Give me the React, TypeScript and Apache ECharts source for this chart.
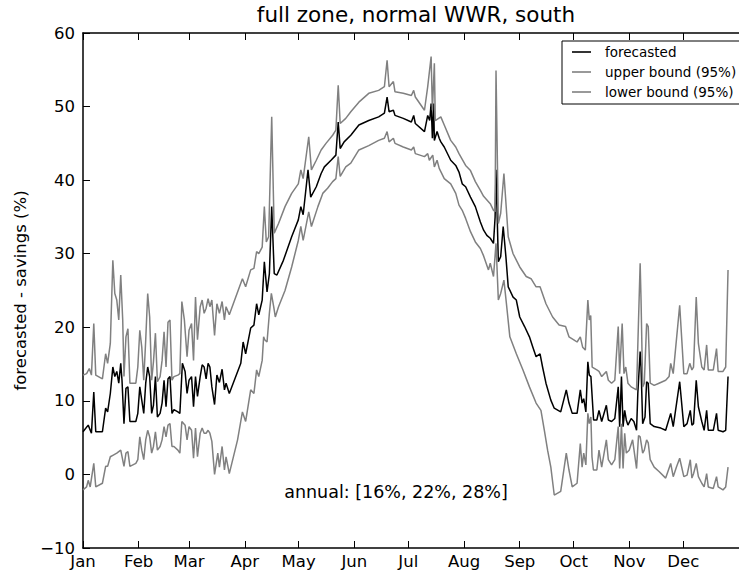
import React, { useEffect, useRef } from "react";
import * as echarts from "echarts";

const titleText = "full zone, normal WWR, south";
const yAxisTitle = "forecasted - savings (%)";
const annotationText = "annual: [16%, 22%, 28%]";
const legendNames = ["forecasted", "upper bound (95%)", "lower bound (95%)"];

const monthDays = [0, 31, 59, 90, 120, 151, 181, 212, 243, 273, 304, 334];
const monthLabels = ["Jan", "Feb", "Mar", "Apr", "May", "Jun", "Jul", "Aug", "Sep", "Oct", "Nov", "Dec"];
const yTicks = [-10, 0, 10, 20, 30, 40, 50, 60];

// [day of year, value %]
const forecast = [
  [0, 5.8], [2.9, 6.7], [4.7, 5.6], [6, 11.2], [7.1, 5.8], [10.8, 5.8], [12.6, 9.0], [13.7, 8.5], [15.2, 11.0],
  [16.6, 14.6], [17.7, 13.3], [18.8, 14.0], [19.9, 12.4], [21, 15.1], [21.7, 12.8], [22.8, 6.9], [23.9, 11.7],
  [25, 11.9], [26.1, 7.2], [29.4, 7.2], [30.5, 8.3], [31.6, 11.9], [32.7, 10.1], [33.8, 8.3], [34.9, 12.4],
  [36, 14.6], [37.1, 13.3], [38.2, 8.3], [39.2, 9.4], [40.3, 13.3], [41.4, 7.8], [42.9, 8.3], [44, 9.7],
  [45.1, 12.8], [46.2, 9.2], [47.3, 13.0], [48.4, 13.3], [49.5, 8.3], [50.6, 8.8], [52.8, 8.5], [53.9, 8.3],
  [55.3, 15.1], [56.8, 14.0], [57.9, 11.0], [59, 12.8], [60.4, 13.3], [61.5, 9.2], [62.6, 13.3], [63.7, 10.6],
  [65.2, 13.3], [66.3, 14.9], [67.4, 14.6], [68.5, 13.0], [69.6, 15.1], [70.6, 14.6], [71.7, 11.9], [73.2, 9.5],
  [74.5, 13.5], [75.9, 12.5], [77.4, 14.3], [78.7, 11.5], [79.6, 12.4], [81.4, 11.0], [87.8, 15.1], [89.1, 18.0],
  [90.5, 16.4], [93.3, 19.9], [95.1, 20.3], [96.6, 23.2], [97.8, 21.7], [99.7, 23.7], [100.9, 28.9], [102.4, 24.8],
  [103.7, 27.3], [105, 36.4], [106.4, 27.3], [107.9, 27.1], [111.5, 29.1], [116.1, 32.3], [119.8, 34.6],
  [121.2, 36.4], [122.5, 35.3], [125.2, 41.4], [126.7, 37.7], [129.8, 39.1], [132.5, 40.9], [134.3, 41.8],
  [138, 42.7], [140.7, 43.4], [142, 47.9], [143.1, 44.3], [145.3, 45.2], [149, 46.1], [153.5, 47.5], [159, 48.1],
  [164.5, 48.6], [167.7, 49.1], [169.2, 51.3], [170.3, 49.3], [172.7, 49.5], [173.6, 48.8], [178.2, 48.4],
  [182.7, 47.9], [184, 48.8], [184.9, 47.7], [190, 46.6], [191.8, 48.8], [192.9, 48.1], [193.7, 50.4],
  [194.4, 45.7], [195.1, 50.4], [195.5, 45.4], [197, 46.6], [198.2, 45.7], [199.1, 45.2], [201, 44.5],
  [204.6, 42.7], [207.4, 42.0], [209.2, 41.1], [211, 39.5], [212.9, 39.1], [215.6, 37.7], [218.3, 36.4],
  [221.1, 34.3], [222.9, 33.2], [224.7, 32.5], [226.6, 32.1], [228.4, 31.4], [229.3, 35.0], [229.8, 41.4],
  [231.1, 28.9], [232.4, 29.6], [233.8, 33.7], [235.3, 29.6], [236.6, 25.5], [239.3, 24.1], [241.1, 23.7],
  [243, 21.4], [245.7, 20.1], [248.4, 18.7], [250.3, 17.3], [252.1, 16.0], [254.3, 16.4], [255.7, 14.6],
  [257.6, 12.4], [260.3, 10.1], [262.2, 9.0], [265.8, 8.5], [268.9, 11.5], [270.4, 9.7], [272.2, 8.3],
  [274.9, 8.3], [276.7, 11.5], [277.7, 9.7], [278.6, 10.3], [279.8, 8.5], [280.9, 15.3], [281.7, 13.5],
  [282.6, 13.3], [284.1, 7.4], [285.9, 7.4], [287.1, 8.7], [288.6, 7.2], [291.2, 9.4], [292.3, 7.4], [294.1, 7.2],
  [295.9, 7.6], [297.8, 11.9], [298.6, 6.5], [299.6, 13.3], [300.5, 6.5], [301.4, 8.7], [302.3, 7.4], [303.2, 6.7],
  [305, 7.6], [306.5, 7.2], [308, 6.0], [308.7, 11.0], [310, 16.7], [310.5, 14.6], [311.4, 6.9], [312.7, 7.8],
  [313.6, 12.6], [314.5, 12.4], [315.6, 6.9], [317.8, 6.5], [321.5, 6.3], [324.2, 6.0], [327, 8.3], [328.4, 6.5],
  [332, 12.6], [334.3, 6.5], [336.1, 6.9], [337.9, 8.7], [338.8, 6.7], [339.7, 6.9], [341.2, 12.8], [342.4, 9.2],
  [344.3, 7.2], [345.6, 6.0], [347, 8.7], [347.9, 6.0], [350.7, 6.0], [352.5, 8.3], [353.4, 6.0], [356.1, 5.8],
  [357.6, 6.0], [358.9, 13.3],
];

const upperBound = [
  [0, 13.5], [2, 13.7], [3.5, 14.4], [4.7, 13.5], [6, 20.5], [7.1, 13.5], [10.8, 13.0], [12.6, 16.4], [13.7, 15.1],
  [15.2, 17.8], [16.6, 29.1], [17.7, 24.6], [18.8, 23.7], [19.9, 21.0], [21, 27.1], [22.1, 21.0], [22.8, 13.3],
  [23.9, 18.7], [25, 19.8], [26.1, 12.4], [29.4, 12.4], [30.5, 14.6], [31.6, 19.6], [32.7, 17.3], [33.8, 12.8],
  [34.9, 18.3], [36, 24.6], [37.1, 21.4], [38.2, 12.8], [39.2, 15.3], [40.3, 19.2], [41.4, 12.6], [42.9, 13.3],
  [44, 15.5], [45.1, 19.4], [46.2, 14.6], [47.3, 20.7], [48.4, 21.0], [49.5, 12.8], [50.6, 13.3], [52.8, 13.5],
  [53.9, 13.7], [55, 23.5], [56.4, 21.0], [57.9, 16.0], [59, 19.6], [60.4, 20.5], [61.5, 15.5], [62.6, 24.1],
  [63.7, 18.3], [65.2, 22.8], [66.3, 23.7], [67.4, 21.9], [68.5, 22.6], [69.6, 23.9], [70.6, 22.8], [71.7, 23.7],
  [73.2, 18.9], [74.5, 23.2], [75.9, 21.9], [77.4, 23.5], [78.7, 21.0], [79.6, 22.8], [81.4, 21.7], [88.7, 26.6],
  [90.5, 25.5], [93.3, 27.8], [95.1, 28.0], [96.6, 30.3], [97.8, 30.0], [99.7, 30.9], [100.9, 36.4], [102, 31.6],
  [103.3, 32.3], [105, 48.6], [106.4, 32.8], [108.8, 34.1], [112.4, 36.4], [116.1, 38.2], [119.8, 39.5],
  [121.2, 41.4], [122.5, 40.2], [125.6, 45.9], [127.1, 41.4], [129.8, 42.7], [132.5, 44.1], [135.2, 45.0],
  [138.9, 46.1], [140.7, 46.8], [142, 52.9], [143.1, 47.7], [146.2, 48.4], [149, 49.3], [153.5, 50.6], [159, 51.8],
  [164.5, 52.2], [167.7, 52.7], [169.2, 56.3], [170.3, 52.7], [172.7, 53.4], [173.6, 52.0], [178.2, 51.8],
  [182.7, 51.5], [184, 52.2], [184.9, 51.3], [190, 49.5], [191.8, 52.7], [193.7, 56.8], [194.4, 49.5],
  [195.5, 55.9], [196, 48.1], [199.1, 48.6], [201, 47.5], [204.6, 45.4], [207.4, 44.5], [209.2, 43.6],
  [212.9, 42.0], [215.6, 41.3], [218.3, 39.8], [221.1, 38.6], [222.9, 37.8], [226.6, 36.8], [228.4, 35.9],
  [229.3, 35.7], [229.8, 54.9], [231.1, 34.1], [232.4, 35.5], [234.2, 40.9], [235.6, 35.9], [236.6, 32.3],
  [239.3, 30.0], [243, 28.2], [246.6, 26.9], [249.3, 26.6], [252.1, 25.5], [254.3, 25.5], [257.6, 23.2],
  [261.3, 21.4], [264.9, 20.3], [268.5, 20.1], [270.4, 18.7], [273.1, 18.3], [274.9, 18.0], [276.7, 18.7],
  [278, 17.3], [279.5, 16.9], [280.9, 23.7], [281.7, 21.0], [282.5, 21.6], [283.3, 14.6], [285.9, 14.2],
  [287.1, 14.0], [288.6, 13.3], [291.2, 14.0], [292.3, 12.8], [294.1, 12.4], [295.9, 12.8], [297.8, 20.1],
  [298.6, 13.7], [300, 20.5], [301, 13.7], [302, 14.6], [303.2, 12.4], [305, 11.9], [306.5, 11.7], [308, 11.5],
  [309.1, 21.0], [310, 28.7], [310.5, 23.7], [311.4, 11.9], [312.3, 12.4], [313.6, 20.5], [314.5, 20.1],
  [315.6, 12.4], [317.8, 12.1], [320.5, 12.4], [324.2, 12.8], [326.1, 13.3], [327, 15.1], [328.4, 13.7],
  [332, 23.0], [334.3, 13.7], [336.1, 13.7], [337.6, 15.1], [338.8, 14.2], [339.7, 14.6], [341.2, 24.1],
  [342.4, 17.8], [344.3, 14.6], [345.6, 14.2], [347, 17.6], [347.9, 14.2], [350.7, 14.2], [352.5, 17.1],
  [353.4, 14.0], [356.1, 14.0], [357.6, 14.6], [358.9, 27.8],
];

const lowerBound = [
  [0, -2.1], [2, -1.7], [2.9, -0.8], [4, -1.7], [6, 1.5], [7.1, -1.7], [10.8, -1.2], [12.6, 1.1], [13.7, 1.1],
  [15.2, 2.4], [16.6, 2.6], [18.8, 2.9], [21, 3.3], [22.8, 1.1], [23.9, 2.9], [25, 3.1], [26.1, 1.1], [29.4, 1.5],
  [30.5, 2.0], [31.6, 5.1], [32.7, 3.3], [33.8, 2.0], [34.9, 4.7], [36, 6.0], [37.1, 5.1], [38.2, 2.9], [39.2, 3.8],
  [40.3, 5.8], [41.4, 3.3], [42.9, 3.8], [44, 4.7], [45.1, 6.5], [46.2, 5.1], [47.3, 6.7], [48.4, 6.9], [49.5, 3.8],
  [50.6, 3.8], [52.8, 3.3], [53.9, 2.9], [55, 7.2], [56.8, 6.7], [57.9, 4.7], [59, 6.5], [60.4, 6.0], [61.5, 2.2],
  [62.6, 6.3], [63.7, 2.4], [65.2, 5.6], [66.3, 6.3], [67.4, 5.6], [68.5, 5.6], [69.6, 6.0], [70.6, 5.6],
  [71.7, 4.5], [73.2, 0.0], [75, 2.9], [75.9, 1.0], [77.4, 3.8], [78.7, 0.6], [79.6, 2.4], [81.4, 0.1], [86, 4.7],
  [88.7, 8.5], [90.5, 7.2], [93.3, 11.5], [95.1, 11.0], [96.6, 14.2], [97.8, 13.3], [99.7, 15.5], [100.5, 18.7],
  [101.1, 18.3], [102.4, 18.0], [103.7, 21.9], [104.8, 24.6], [106.1, 22.8], [107, 21.4], [108.8, 22.8],
  [112.4, 25.0], [116.1, 28.2], [119.8, 31.8], [121.2, 33.7], [122.5, 31.8], [125.6, 35.7], [127.1, 33.7],
  [130.7, 36.4], [133.4, 38.2], [136.1, 38.9], [138.9, 39.8], [140.7, 40.2], [142, 43.2], [143.1, 40.5],
  [146.2, 41.8], [149, 42.3], [153.5, 44.1], [159, 44.7], [164.5, 45.4], [167.7, 45.7], [169.2, 46.6],
  [170.3, 45.2], [172.7, 45.7], [173.6, 45.0], [178.2, 44.5], [182.7, 44.1], [184, 44.5], [184.9, 43.6],
  [190, 43.2], [191.8, 43.6], [192.7, 42.7], [194.6, 43.4], [195.5, 41.8], [197, 42.7], [198.2, 41.6],
  [201, 40.2], [204.6, 39.5], [207.4, 38.2], [209.2, 36.6], [211, 35.9], [212.9, 34.8], [215.6, 33.0],
  [218.3, 31.6], [221.1, 30.7], [222.9, 29.7], [225.6, 27.8], [226.6, 28.7], [228.4, 26.9], [229.8, 31.4],
  [231.1, 23.7], [232.4, 24.6], [234.2, 26.4], [235.6, 23.2], [237.5, 18.7], [241.1, 16.4], [244.8, 14.2],
  [248.4, 11.9], [252.1, 9.7], [254.8, 8.7], [256.7, 6.0], [258.5, 3.3], [260.3, 1.0], [262.2, -2.8],
  [265.8, -2.3], [268.9, 2.9], [270.4, 0.6], [272.2, -1.7], [274.9, -1.2], [276.7, 4.2], [277.7, 1.0],
  [278.6, 2.9], [279.8, 1.3], [280.9, 8.3], [281.7, 6.9], [282.6, 7.8], [283.2, 2.4], [284, 0.6], [285.9, 0.6],
  [287.1, 3.3], [288.6, 1.0], [291.2, 4.7], [292.3, 2.0], [294.1, 1.3], [295.9, 2.0], [297.8, 6.5], [298.6, 0.8],
  [299.6, 6.9], [300.5, 0.8], [301.4, 5.6], [302.3, 2.9], [303.9, 3.3], [305.8, 4.7], [308, 0.8], [309.1, 5.3],
  [310, 5.1], [311.4, 2.9], [312.3, 3.3], [313.6, 4.7], [314.5, 4.3], [315.6, 2.0], [317.8, 1.0], [320.5, 0.4],
  [324.2, -0.5], [327, 1.5], [328.4, -0.3], [330.2, 1.0], [332, 2.2], [334.3, -0.3], [336.1, -0.1], [337.9, 2.0],
  [338.8, -0.5], [339.7, 0.1], [341.2, 1.5], [342.4, -0.3], [344.3, -1.2], [345.6, -1.7], [347, 0.1],
  [347.9, -1.7], [350.7, -1.9], [352.5, -0.3], [353.4, -1.7], [356.1, -2.1], [357.6, -1.7], [358.9, 1.0],
];

const FONT = "DejaVu Sans";
const BLACK = "#000000";
const GRAY = "#808080";

export default function App() {
  const ref = useRef<HTMLDivElement>(null);

  useEffect(() => {
    if (!ref.current) return;
    const chart = echarts.init(ref.current, null, { renderer: "svg" });

    const gridLeft = 83;
    const gridTop = 33;
    const gridWidth = 666;
    const gridHeight = 515;

    const legendColors = [BLACK, GRAY, GRAY];
    const legendRowsY = [52, 72, 92];
    const legendGraphics: any[] = [
      {
        type: "rect",
        shape: { x: 562, y: 41, width: 190, height: 63 },
        style: { fill: "#ffffff", stroke: BLACK, lineWidth: 1 },
        z: 100,
      },
    ];
    legendNames.forEach((name, i) => {
      legendGraphics.push({
        type: "line",
        shape: { x1: 572, y1: legendRowsY[i], x2: 591, y2: legendRowsY[i] },
        style: { stroke: legendColors[i], lineWidth: 1.6 },
        z: 101,
      });
      legendGraphics.push({
        type: "text",
        x: 605,
        y: legendRowsY[i],
        style: {
          text: name,
          fill: BLACK,
          fontSize: 13.5,
          fontFamily: FONT,
          align: "left",
          verticalAlign: "middle",
        },
        z: 101,
      });
    });

    const valueLabel = (v: number) => (v < 0 ? "\u2212" + Math.abs(v) : String(v));

    chart.setOption({
      animation: false,
      backgroundColor: "#ffffff",
      grid: { left: gridLeft, top: gridTop, width: gridWidth, height: gridHeight, containLabel: false },
      xAxis: [
        {
          type: "value",
          position: "bottom",
          min: 0,
          max: 365,
          axisLine: { show: true, onZero: false, lineStyle: { color: BLACK, width: 1.5 } },
          axisTick: { show: true, inside: true, length: 7, customValues: monthDays, lineStyle: { color: BLACK, width: 1 } },
          axisLabel: {
            show: true,
            customValues: monthDays,
            margin: 5,
            formatter: (v: number) => monthLabels[monthDays.indexOf(v)] ?? "",
            color: BLACK,
            fontSize: 16.5,
            fontFamily: FONT,
          },
          splitLine: { show: false },
        },
        {
          type: "value",
          position: "top",
          min: 0,
          max: 365,
          axisLine: { show: true, onZero: false, lineStyle: { color: BLACK, width: 1.5 } },
          axisTick: { show: true, inside: true, length: 7, customValues: monthDays, lineStyle: { color: BLACK, width: 1 } },
          axisLabel: { show: false },
          splitLine: { show: false },
        },
      ],
      yAxis: {
        type: "value",
        min: -10,
        max: 60,
        interval: 10,
        axisLine: { show: true, onZero: false, lineStyle: { color: BLACK, width: 1.5 } },
        axisTick: { show: true, inside: true, length: 7, lineStyle: { color: BLACK, width: 1 } },
        axisLabel: {
          show: true,
          margin: 8,
          formatter: valueLabel,
          color: BLACK,
          fontSize: 16.5,
          fontFamily: FONT,
        },
        splitLine: { show: false },
      },
      series: [
        {
          name: legendNames[0],
          type: "line",
          data: forecast,
          showSymbol: false,
          symbol: "none",
          lineStyle: { color: BLACK, width: 1.5 },
          xAxisIndex: 0,
          z: 2,
        },
        {
          name: legendNames[1],
          type: "line",
          data: upperBound,
          showSymbol: false,
          symbol: "none",
          lineStyle: { color: GRAY, width: 1.5 },
          xAxisIndex: 0,
          z: 3,
        },
        {
          name: legendNames[2],
          type: "line",
          data: lowerBound,
          showSymbol: false,
          symbol: "none",
          lineStyle: { color: GRAY, width: 1.5 },
          xAxisIndex: 0,
          z: 4,
        },
      ],
      graphic: [
        {
          type: "text",
          x: gridLeft + gridWidth / 2,
          y: 14,
          style: {
            text: titleText,
            fill: BLACK,
            fontSize: 21.5,
            fontFamily: FONT,
            align: "center",
            verticalAlign: "middle",
          },
        },
        {
          type: "text",
          x: 20,
          y: gridTop + gridHeight / 2,
          rotation: Math.PI / 2,
          style: {
            text: yAxisTitle,
            fill: BLACK,
            fontSize: 16.5,
            fontFamily: FONT,
            align: "center",
            verticalAlign: "middle",
          },
        },
        {
          type: "text",
          x: 396,
          y: 492,
          style: {
            text: annotationText,
            fill: BLACK,
            fontSize: 17.5,
            fontFamily: FONT,
            align: "center",
            verticalAlign: "middle",
          },
        },
        ...legendGraphics,
      ],
    });

    return () => chart.dispose();
  }, []);

  return (
    <div
      ref={ref}
      style={{ position: "absolute", left: 0, top: 0, width: 739, height: 576, overflow: "hidden", background: "#fff" }}
    />
  );
}
